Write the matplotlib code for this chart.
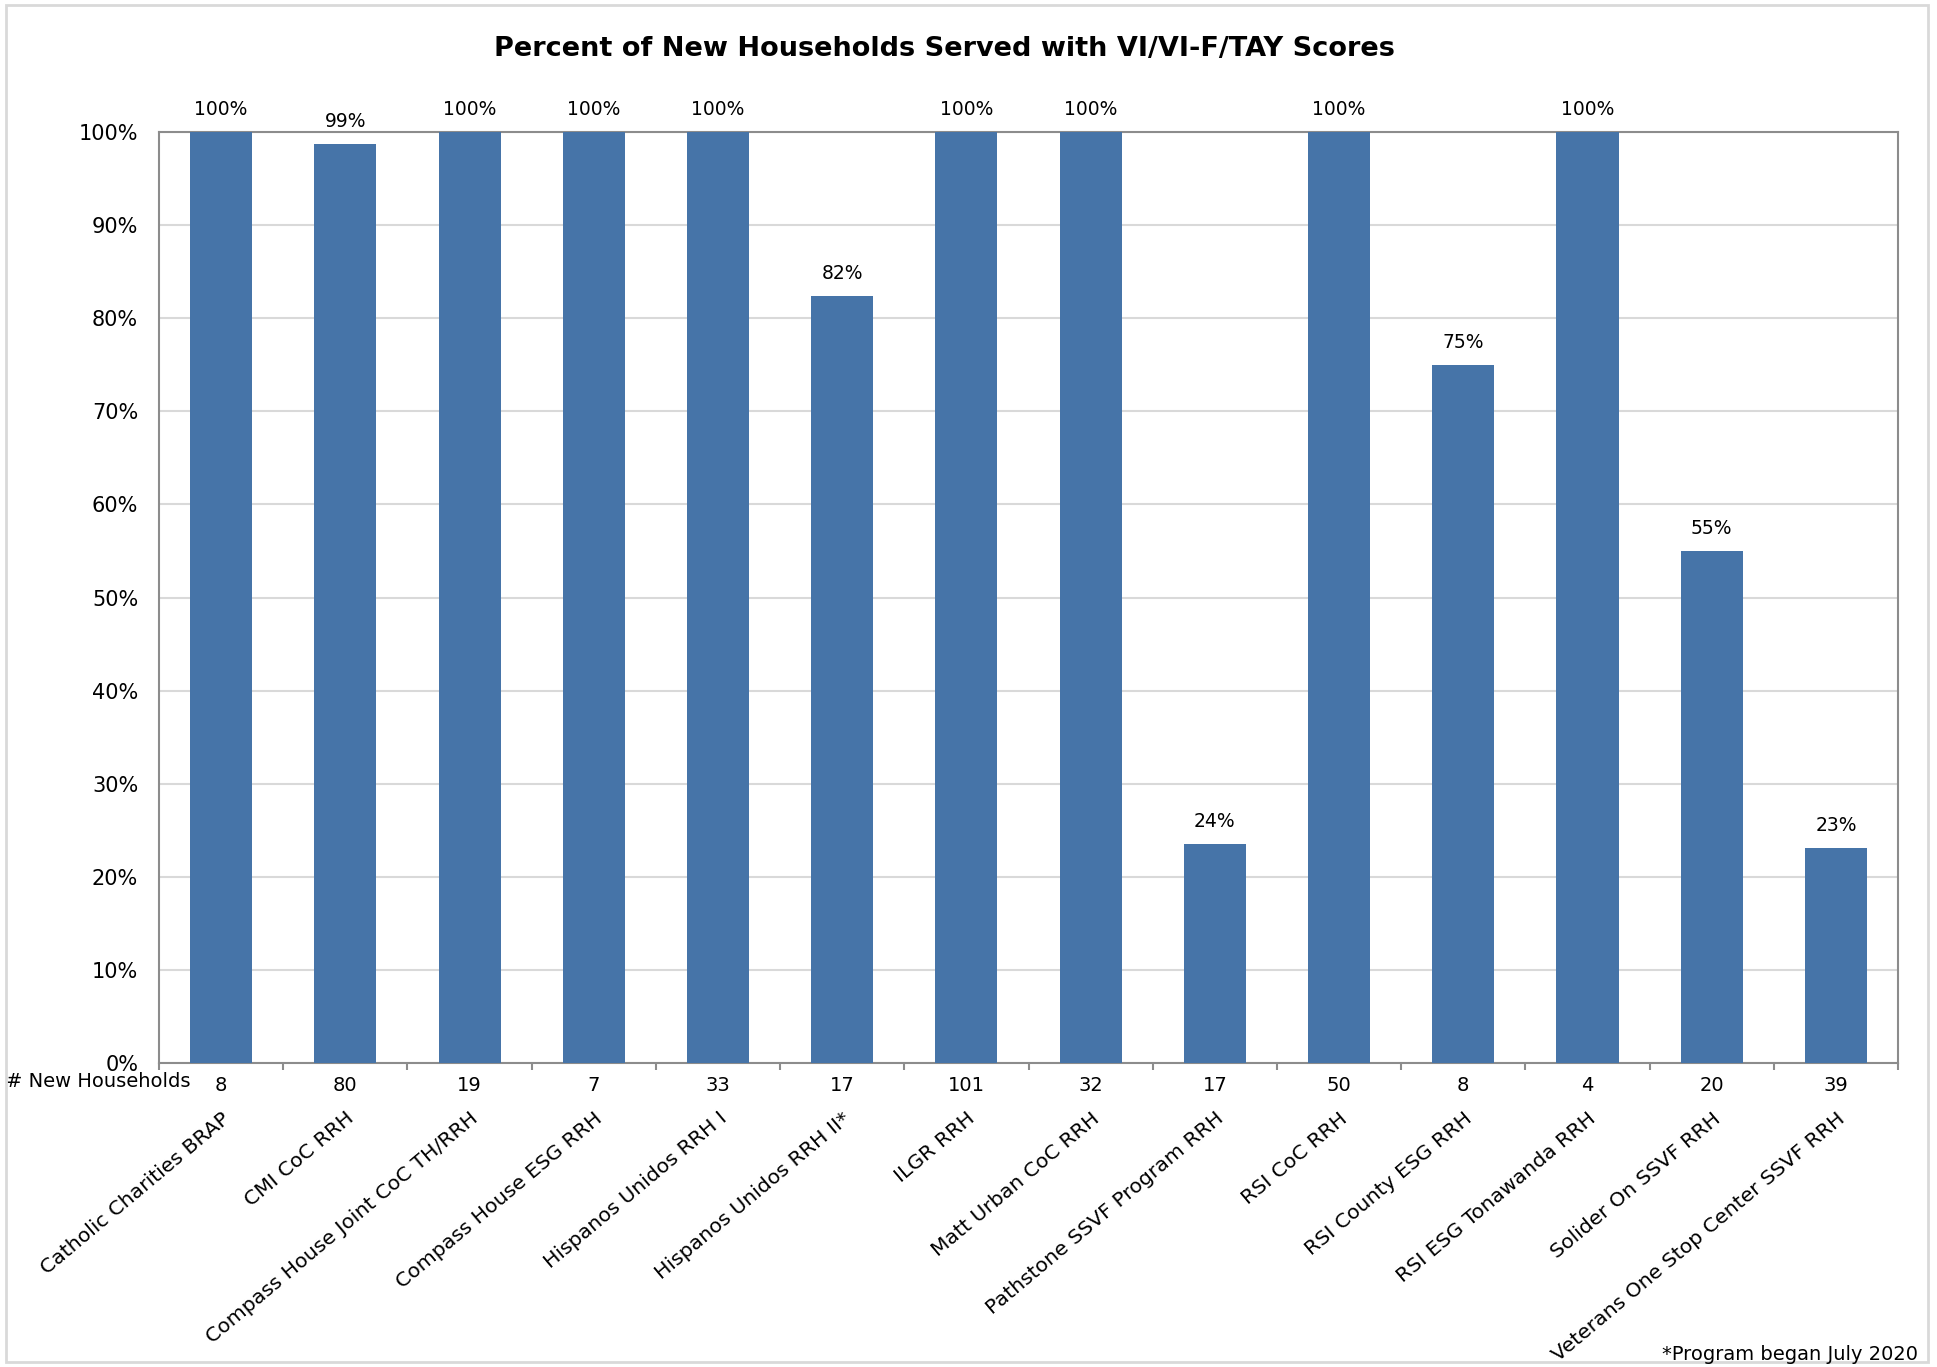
import numpy as np
import matplotlib.pyplot as plt
from matplotlib.patches import Rectangle
import matplotlib.transforms as mtransforms

# Datos
programs = ["Catholic Charities BRAP", "CMI CoC RRH", "Compass House Joint CoC TH/RRH",
            "Compass House ESG RRH", "Hispanos Unidos RRH I", "Hispanos Unidos RRH II*",
            "ILGR RRH", "Matt Urban CoC RRH", "Pathstone SSVF Program RRH", "RSI CoC RRH",
            "RSI County ESG RRH", "RSI ESG Tonawanda RRH", "Solider On SSVF RRH",
            "Veterans One Stop Center SSVF RRH"]
pct_scored = [100, 98.75, 100, 100, 100, 82.35, 100, 100, 23.53, 100, 75, 100, 55, 23.08]
new_households = [8, 80, 19, 7, 33, 17, 101, 32, 17, 50, 8, 4, 20, 39]

bar_color = "#4674A8"
grid_color = "#D9D9D9"
axis_color = "#8C8C8C"

fig = plt.figure(figsize=(19.37, 13.67), dpi=100)
ax = fig.add_axes([0.0821, 0.2224, 0.8978, 0.681])

x = np.arange(len(programs))
ax.bar(x, pct_scored, width=0.5, color=bar_color, zorder=3)

# Etiquetas de datos
for xi, v in zip(x, pct_scored):
    ax.text(xi, v + 1.4, f"{round(v)}%", ha="center", va="bottom", fontsize=13.5, color="black")

ax.set_xlim(-0.5, len(programs) - 0.5)
ax.set_ylim(0, 100)
ax.set_yticks(np.arange(0, 101, 10))
ax.set_yticklabels([f"{t}%" for t in range(0, 101, 10)], fontsize=15)
ax.yaxis.grid(True, color=grid_color, linewidth=1.5, zorder=0)
ax.tick_params(axis="y", length=0, pad=15)

# Marcas entre categorías
ax.set_xticks(np.arange(-0.5, len(programs), 1), minor=True)
ax.tick_params(axis="x", which="minor", length=5, color=axis_color, width=1.5)
ax.set_xticks(x)
ax.set_xticklabels(programs, rotation=40, ha="right", rotation_mode="anchor", fontsize=14.7)
ax.tick_params(axis="x", which="major", length=0, pad=33)

for s in ax.spines.values():
    s.set_color(axis_color)
    s.set_linewidth(1.5)

# Fila de número de hogares
trans = mtransforms.blended_transform_factory(ax.transData, ax.transAxes)
for xi, n in zip(x, new_households):
    ax.text(xi, -0.0247, str(n), transform=trans, ha="center", va="center", fontsize=14)
ax.text(-0.25, -0.0204, "# New Households", transform=trans, ha="right", va="center", fontsize=14)

# Título
fig.text(0.4875, 0.964, "Percent of New Households Served with VI/VI-F/TAY Scores",
         ha="center", va="center", fontsize=19.5, fontweight="bold")

# Nota
fig.text(0.990, 0.0088, "*Program began July 2020", ha="right", va="center", fontsize=14)

# Borde de la figura
fig.patches.append(Rectangle((0.0031, 0.0037), 0.9923, 0.9926, transform=fig.transFigure,
                             fill=False, edgecolor=grid_color, linewidth=2))

fig.savefig("out.png", dpi=100)
